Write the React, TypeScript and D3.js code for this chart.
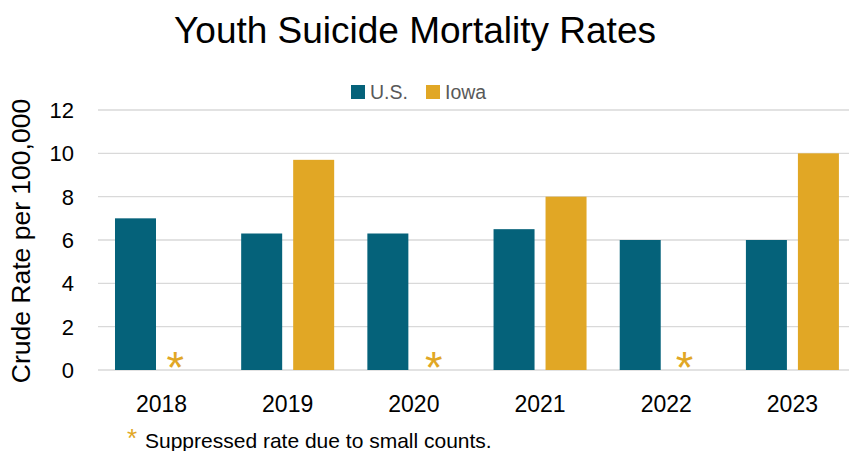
import React from "react";
import * as d3 from "d3";

const years = ["2018", "2019", "2020", "2021", "2022", "2023"];
const usValues = [7.0, 6.3, 6.3, 6.5, 6.0, 6.0];
const iowaValues: (number | null)[] = [null, 9.7, null, 8.0, null, 10.0];
const yTicks = [0, 2, 4, 6, 8, 10, 12];
const seriesNames = ["U.S.", "Iowa"];

const W = 849;
const H = 451;
const US_COLOR = "#05627A";
const IA_COLOR = "#E1A725";
const FONT = "'Liberation Sans', Arial, sans-serif";

// horizontal nudge of the suppression markers (hand-placed in the original)
const starNudge: Record<string, number> = { "2018": 13.7, "2020": 19.8, "2022": 18.4 };

export default function App() {
  const x = d3.scaleBand<string>().domain(years).range([98.4, 855.5]).paddingInner(0).paddingOuter(0);
  const y = d3.scaleLinear().domain([0, 12]).range([370, 110]);
  const barW = 41;
  const gap = 11;
  const center = (i: number) => (x(years[i]) as number) + x.bandwidth() / 2;

  return (
    <svg width={W} height={H} style={{ position: "absolute", left: 0, top: 0, background: "#fff" }}>
      <text x={415} y={43} textAnchor="middle" fontFamily={FONT} fontSize={37} fill="#000">
        Youth Suicide Mortality Rates
      </text>
      {/* legend */}
      <rect x={351} y={85} width={14} height={14} fill={US_COLOR} />
      <text x={370} y={99} fontFamily={FONT} fontSize={19.5} fill="#595959">{seriesNames[0]}</text>
      <rect x={426} y={85} width={14} height={14} fill={IA_COLOR} />
      <text x={445} y={99} fontFamily={FONT} fontSize={19.5} fill="#595959">{seriesNames[1]}</text>

      {/* gridlines */}
      {yTicks.map((t) => (
        <line key={t} x1={98} x2={849} y1={y(t)} y2={y(t)} stroke="#D9D9D9" strokeWidth={1.3} />
      ))}
      {yTicks.map((t) => (
        <text key={"l" + t} x={74} y={y(t) + 8} textAnchor="end" fontFamily={FONT} fontSize={22} fill="#000">
          {t}
        </text>
      ))}
      <text
        transform={`translate(30,${241}) rotate(-90)`}
        textAnchor="middle"
        fontFamily={FONT}
        fontSize={26.5}
        fill="#000"
      >
        Crude Rate per 100,000
      </text>

      {years.map((yr, i) => {
        const c = center(i);
        const usX = c - gap / 2 - barW;
        const iaX = c + gap / 2;
        const ia = iowaValues[i];
        return (
          <g key={yr}>
            <rect x={usX} y={y(usValues[i])} width={barW} height={y(0) - y(usValues[i])} fill={US_COLOR} />
            {ia !== null ? (
              <rect x={iaX} y={y(ia)} width={barW} height={y(0) - y(ia)} fill={IA_COLOR} />
            ) : (
              <text x={c + (starNudge[yr] ?? 17)} y={y(0) + 13} textAnchor="middle" fontFamily={FONT} fontSize={45} fill={IA_COLOR}>
                *
              </text>
            )}
            <text x={c} y={412} textAnchor="middle" fontFamily={FONT} fontSize={23} fill="#000">
              {yr}
            </text>
          </g>
        );
      })}

      <text x={127} y={446.5} fontFamily={FONT} fontSize={26} fill={IA_COLOR}>*</text>
      <text x={145} y={448} fontFamily={FONT} fontSize={21} fill="#000">
        Suppressed rate due to small counts.
      </text>
    </svg>
  );
}
